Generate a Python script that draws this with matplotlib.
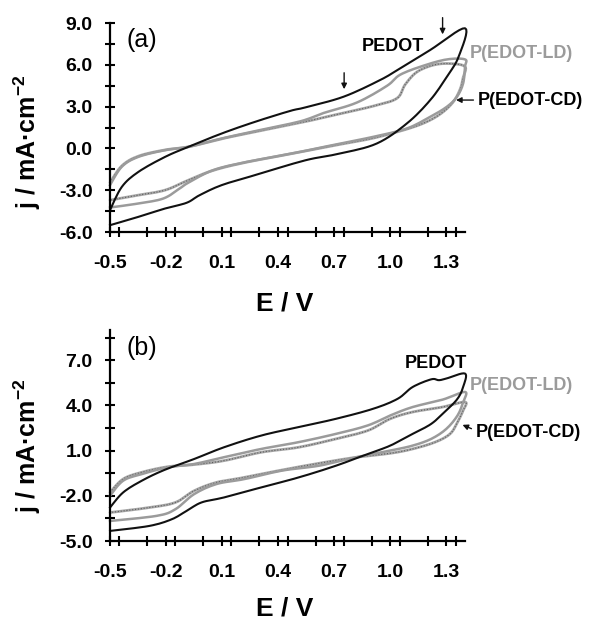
import numpy as np
import matplotlib
matplotlib.use('Agg')
import matplotlib.pyplot as plt
from matplotlib.ticker import MultipleLocator, FormatStrFormatter

plt.rcParams['font.family'] = ['Liberation Sans', 'DejaVu Sans']
plt.rcParams['axes.unicode_minus'] = False
plt.rcParams['mathtext.fontset'] = 'custom'
plt.rcParams['mathtext.bf'] = 'Liberation Sans:bold'
plt.rcParams['mathtext.rm'] = 'Liberation Sans'

# ---- panel (a) ----
a_pedot_E = [-0.5, -0.437, -0.348, -0.205, -0.08, 0.098, 0.277, 0.464, 0.545, 0.75, 0.946, 1.053, 1.214, 1.40,
             1.366, 1.303, 1.214, 1.089, 0.928, 0.732, 0.545, 0.277, 0.098, -0.02, -0.09, -0.205, -0.348, -0.5]
a_pedot_j = [-4.43, -2.76, -1.68, -0.60, 0.12, 1.08, 1.92, 2.70, 2.95, 3.72, 4.92, 5.76, 7.08, 8.64,
             6.60, 5.16, 3.48, 1.80, 0.36, -0.36, -0.85, -1.91, -2.63, -3.35, -3.90, -4.31, -4.91, -5.51]

a_ld_E = [-0.5, -0.437, -0.348, -0.205, -0.08, 0.098, 0.277, 0.518, 0.643, 0.821, 0.982, 1.053, 1.178, 1.303, 1.40,
          1.40, 1.39, 1.357, 1.303, 1.214, 1.089, 0.91, 0.732, 0.518, 0.232, 0.053, -0.08, -0.125, -0.214, -0.348, -0.5]
a_ld_j = [-2.63, -1.31, -0.60, -0.12, 0.12, 0.72, 1.25, 1.95, 2.55, 3.30, 4.50, 5.30, 5.95, 6.40, 6.40,
          5.88, 4.68, 3.72, 3.00, 2.28, 1.44, 0.84, 0.36, -0.24, -0.96, -1.55, -2.45, -2.85, -3.59, -3.95, -4.24]

a_cd_E = [-0.5, -0.437, -0.348, -0.205, -0.08, 0.098, 0.277, 0.518, 0.732, 0.91, 1.035, 1.08, 1.143, 1.232, 1.321, 1.40,
          1.39, 1.375, 1.34, 1.28, 1.20, 1.09, 0.91, 0.732, 0.518, 0.232, 0.053, -0.08, -0.205, -0.348, -0.5]
a_cd_j = [-2.45, -1.25, -0.55, -0.10, 0.12, 0.70, 1.20, 1.85, 2.50, 3.05, 3.60, 4.60, 5.50, 6.00, 6.10, 5.88,
          5.10, 4.30, 3.40, 2.60, 1.95, 1.40, 0.75, 0.30, -0.26, -0.98, -1.57, -2.27, -2.99, -3.35, -3.71]

# ---- panel (b) ----
b_pedot_E = [-0.5, -0.43, -0.33, -0.21, -0.05, 0.11, 0.31, 0.51, 0.71, 0.91, 1.04, 1.12, 1.22, 1.26, 1.30, 1.40,
             1.39, 1.36, 1.30, 1.22, 1.12, 1.00, 0.88, 0.71, 0.51, 0.31, 0.11, -0.01, -0.09, -0.17, -0.29, -0.5]
b_pedot_j = [-2.78, -1.78, -1.0, -0.29, 0.44, 1.22, 2.0, 2.56, 3.11, 3.78, 4.44, 5.22, 5.73, 5.67, 5.78, 6.11,
             5.22, 4.44, 3.67, 2.78, 2.11, 1.33, 0.78, 0.0, -0.78, -1.44, -2.11, -2.44, -3.0, -3.56, -4.0, -4.33]

b_ld_E = [-0.5, -0.43, -0.33, -0.19, -0.05, 0.11, 0.31, 0.51, 0.71, 0.88, 1.00, 1.12, 1.28, 1.40,
          1.39, 1.36, 1.30, 1.22, 1.12, 1.00, 0.82, 0.62, 0.42, 0.22, 0.07, -0.05, -0.15, -0.25, -0.5]
b_ld_j = [-2.0, -1.0, -0.56, -0.11, 0.11, 0.56, 1.11, 1.56, 2.11, 2.67, 3.33, 3.89, 4.38, 4.89,
          4.22, 3.33, 2.44, 1.78, 1.33, 1.0, 0.56, 0.0, -0.33, -0.89, -1.22, -1.89, -2.89, -3.33, -3.67]

b_cd_E = [-0.5, -0.43, -0.33, -0.19, -0.05, 0.11, 0.31, 0.51, 0.71, 0.88, 1.00, 1.12, 1.28, 1.40,
          1.39, 1.36, 1.32, 1.24, 1.12, 1.00, 0.82, 0.62, 0.42, 0.22, 0.07, -0.05, -0.15, -0.29, -0.5]
b_cd_j = [-1.78, -0.89, -0.44, -0.07, 0.07, 0.33, 0.89, 1.22, 1.78, 2.33, 3.11, 3.56, 3.89, 4.22,
          3.67, 2.89, 2.11, 1.56, 1.11, 0.82, 0.56, 0.16, -0.29, -0.78, -1.11, -1.67, -2.44, -2.78, -3.11]

x_ticks = [-0.5, -0.2, 0.1, 0.4, 0.7, 1.0, 1.3]

BLACK = '#111111'
GRAY = '#9b9b9b'
TICK_FS = 14
LABEL_FS = 19
NOTE_FS = 13


def smooth(xs, ys, n=8):
    # Catmull-Rom through the read points so the loops look like CV traces
    p = np.column_stack([xs, ys])
    p = np.vstack([p[0], p, p[-1]])
    out = []
    for i in range(1, len(p) - 2):
        p0, p1, p2, p3 = p[i - 1], p[i], p[i + 1], p[i + 2]
        for t in np.linspace(0, 1, n, endpoint=False):
            t2, t3 = t * t, t * t * t
            out.append(0.5 * ((2 * p1) + (-p0 + p2) * t +
                              (2 * p0 - 5 * p1 + 4 * p2 - p3) * t2 +
                              (-p0 + 3 * p1 - 3 * p2 + p3) * t3))
    out.append(p[-2])
    out = np.array(out)
    return out[:, 0], out[:, 1]


def style_axes(ax, ylim, yticks, ylab_y, xlab_y):
    ax.set_xlim(-0.5, 1.4)
    ax.set_ylim(*ylim)
    for s in ('top', 'right'):
        ax.spines[s].set_visible(False)
    for s in ('left', 'bottom'):
        ax.spines[s].set_linewidth(1.6)
    ax.set_xticks(x_ticks)
    ax.xaxis.set_minor_locator(MultipleLocator(0.15))
    ax.set_yticks(yticks)
    ax.set_yticks(np.arange(ylim[0], ylim[1] + 0.01, 1.5), minor=True)
    ax.xaxis.set_major_formatter(FormatStrFormatter('%.1f'))
    ax.yaxis.set_major_formatter(FormatStrFormatter('%.1f'))
    ax.tick_params(which='both', direction='inout', length=7, width=1.5, labelsize=TICK_FS)
    ax.tick_params(axis='x', pad=13)
    ax.tick_params(axis='y', pad=9)
    for lab in ax.get_xticklabels() + ax.get_yticklabels():
        lab.set_fontweight('bold')
    ax.set_xlabel('E / V', fontsize=LABEL_FS, fontweight='bold')
    ax.xaxis.set_label_coords(0.493, xlab_y)
    ax.set_ylabel(r'j / mA·cm$^{\mathbf{-2}}$', fontsize=18, fontweight='bold')
    ax.yaxis.set_label_coords(-0.19, ylab_y)


def draw_cd(ax, xs, ys):
    x, y = smooth(xs, ys)
    ax.plot(x, y, color='#a8a8a8', lw=2.0, solid_capstyle='round', clip_on=False)
    ax.plot(x, y, color='#5e5e5e', lw=0.8, ls=(0, (1, 1.6)), clip_on=False)


def draw_loop(ax, xs, ys, color, lw):
    x, y = smooth(xs, ys)
    ax.plot(x, y, color=color, lw=lw, clip_on=False)


def arrow(ax, tip, tail):
    ax.annotate('', xy=tip, xytext=tail,
                arrowprops=dict(arrowstyle='-|>', color=BLACK, lw=1.0, mutation_scale=8),
                annotation_clip=False)


fig = plt.figure(figsize=(5.89, 6.21), dpi=100)
ax1 = fig.add_axes([0.1868, 0.6264, 0.6027, 0.3362])
ax2 = fig.add_axes([0.1868, 0.1288, 0.6027, 0.3398])

# (a)
draw_cd(ax1, a_cd_E, a_cd_j)
draw_loop(ax1, a_ld_E, a_ld_j, GRAY, 1.8)
draw_loop(ax1, a_pedot_E, a_pedot_j, BLACK, 1.5)
style_axes(ax1, (-6, 9), [-6, -3, 0, 3, 6, 9], 0.43, -0.285)
ax1.text(-0.33, 7.8, '(a)', fontsize=18, ha='center', va='center')
ax1.text(1.016, 7.3, 'PEDOT', fontsize=NOTE_FS, fontweight='bold', ha='center', va='center')
ax1.text(1.428, 6.86, 'P(EDOT-LD)', fontsize=NOTE_FS, fontweight='bold', color=GRAY, ha='left', va='center')
ax1.text(1.466, 3.48, 'P(EDOT-CD)', fontsize=NOTE_FS, fontweight='bold', ha='left', va='center')
arrow(ax1, (1.337, 3.48), (1.46, 3.48))
arrow(ax1, (0.753, 4.06), (0.753, 5.64))
arrow(ax1, (1.28, 8.0), (1.28, 9.6))

# (b)
draw_cd(ax2, b_cd_E, b_cd_j)
draw_loop(ax2, b_ld_E, b_ld_j, GRAY, 1.8)
draw_loop(ax2, b_pedot_E, b_pedot_j, BLACK, 1.5)
style_axes(ax2, (-5, 9), [-5, -2, 1, 4, 7], 0.45, -0.262)
ax2.text(-0.33, 7.8, '(b)', fontsize=18, ha='center', va='center')
ax2.text(1.247, 6.78, 'PEDOT', fontsize=NOTE_FS, fontweight='bold', ha='center', va='center')
ax2.text(1.428, 5.33, 'P(EDOT-LD)', fontsize=NOTE_FS, fontweight='bold', color=GRAY, ha='left', va='center')
ax2.text(1.458, 2.22, 'P(EDOT-CD)', fontsize=NOTE_FS, fontweight='bold', ha='left', va='center')
arrow(ax2, (1.373, 2.78), (1.448, 2.38))

fig.savefig('out.png', dpi=100)
